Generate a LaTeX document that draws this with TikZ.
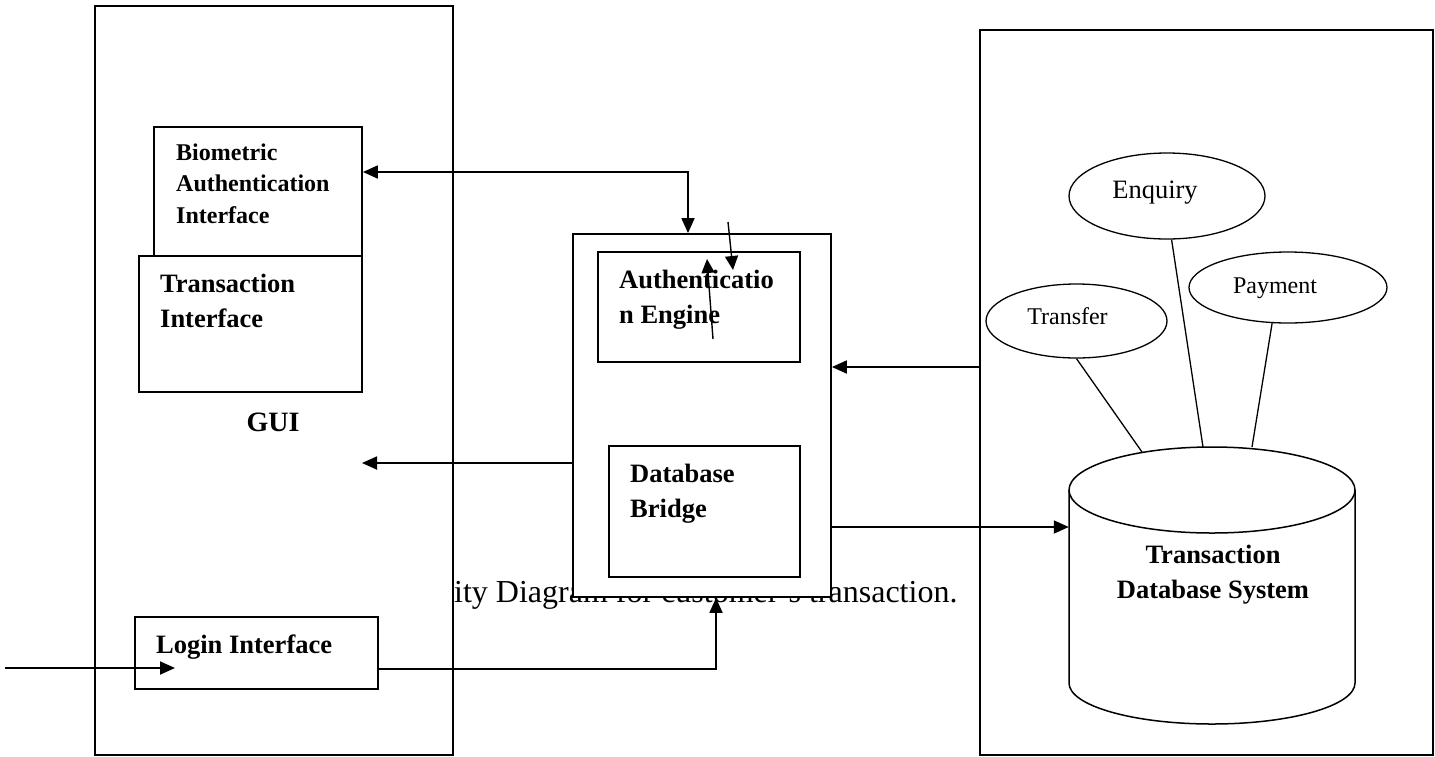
\documentclass[tikz,border=0pt]{standalone}
\usepackage{fontspec}
\setmainfont{Liberation Serif}
\usetikzlibrary{arrows.meta,shapes.geometric}

% stacked lines whose anchor is the first baseline
\newcommand\boxlines[2][l]{\begin{tabular}[t]{@{}#1@{}}#2\end{tabular}}

\begin{document}
\begin{tikzpicture}[x=1pt,y=-1pt,
  panel/.style={draw,line width=1.8pt,fill=white,inner sep=0pt},
  lbl/.style={inner sep=0pt,anchor=base west,font=\bfseries\fontsize{26.5}{35}\selectfont},
  small lbl/.style={lbl,font=\bfseries\fontsize{24}{31.5}\selectfont},
  oval/.style={ellipse,draw,line width=1.3pt,fill=white,inner sep=0pt},
  oval text/.style={inner sep=0pt,anchor=base,font=\fontsize{24}{28}\selectfont},
  link/.style={line width=1.3pt},
  arr/.style={line width=1.8pt,-{Triangle[length=15pt,width=13pt]}},
  thin arr/.style={line width=1.4pt,-{Triangle[length=14pt,width=13pt]}},
  biarr/.style={line width=1.8pt,{Triangle[length=15pt,width=13pt]}-{Triangle[length=15pt,width=13pt]}}]

\useasboundingbox (0,0) rectangle (1435,756);

% caption, partly hidden by the panels drawn over it
\node[anchor=base west,inner sep=0pt,font=\fontsize{32}{38}\selectfont] (caption) at (454,602) {ity Diagram for customer's transaction.};

% GUI side
\node[panel,minimum width=358pt,minimum height=749pt] (gui) at (274,380.5) {};
\node[panel,minimum width=208pt,minimum height=129pt] (bio) at (258,191.5) {};
\node[panel,minimum width=223pt,minimum height=136pt] (trans) at (250.5,324) {};
\node[panel,minimum width=243pt,minimum height=72pt] (login) at (256.5,653) {};
\node[small lbl] (biotext) at (176,160) {\boxlines{Biometric\\Authentication\\Interface}};
\node[lbl] (transtext) at (160,292) {\boxlines{Transaction\\Interface}};
\node[lbl,anchor=base,font=\bfseries\fontsize{28}{34}\selectfont] (guitext) at (273,431) {GUI};
\node[lbl] (logintext) at (156,653) {Login Interface};

% engine in the middle
\node[panel,minimum width=258pt,minimum height=363pt] (mid) at (702,415.5) {};
\node[panel,minimum width=202pt,minimum height=110pt] (auth) at (699,307) {};
\node[panel,minimum width=191pt,minimum height=131pt] (bridge) at (704.5,511.5) {};
\node[lbl] (authtext) at (619,288) {\boxlines{Authenticatio\\n Engine}};
\node[lbl] (bridgetext) at (630,482) {\boxlines{Database\\Bridge}};

% transaction store on the right
\node[panel,minimum width=453pt,minimum height=725pt] (store) at (1206.5,392.5) {};
\node[inner sep=0pt,minimum width=286pt,minimum height=277pt] (db) at (1212,585.5) {};
\draw[line width=1.5pt,fill=white] (1212,490) ellipse [x radius=143pt, y radius=43pt];
\draw[line width=1.5pt] (1069,490) -- (1069,683)
  arc[start angle=180,end angle=360,x radius=143pt,y radius=41pt] -- (1355,490);
\node[lbl,anchor=base] (dbtext) at (1213,563) {\boxlines[c]{Transaction\\Database System}};

\node[oval,minimum width=196pt,minimum height=86pt] (enq) at (1167,196) {};
\node[oval,minimum width=198pt,minimum height=71pt] (pay) at (1288,287.5) {};
\node[oval,minimum width=181pt,minimum height=74pt] (tra) at (1076.5,321) {};
\node[oval text,font=\fontsize{26.5}{30}\selectfont] (enqtext) at (1155,198) {Enquiry};
\node[oval text] (paytext) at (1275,293) {Payment};
\node[oval text] (tratext) at (1067.5,324) {Transfer};

\coordinate (traEnd) at (1142,452);
\coordinate (enqEnd) at (1203,447);
\coordinate (payEnd) at (1252,447);
\draw[link] (tra.south) -- (traEnd);
\draw[link] (enq.276) -- (enqEnd);
\draw[link] (pay.246) -- (payEnd);

% connectors
\coordinate (bioLink) at (688,172);
\draw[biarr] (bio.east |- bioLink) -- (bioLink) -- (mid.north -| bioLink);

\coordinate (guiIn) at (362,463);
\draw[arr] (mid.west |- guiIn) -- (guiIn);

\coordinate (fromStore) at (980,367);
\draw[arr] (store.west |- fromStore) -- (mid.east |- fromStore);

\coordinate (toDb) at (831,527);
\draw[arr] (mid.east |- toDb) -- (db.west |- toDb);

\coordinate (entry) at (5,668);
\coordinate (entryTip) at (175,668);
\draw[arr] (entry) -- (entryTip);

\coordinate (loginBend) at (716,669);
\draw[arr] (login.east |- loginBend) -- (loginBend) -- (mid.south -| loginBend);

\coordinate (inA) at (728,222);
\coordinate (inAtip) at (733,270);
\coordinate (inB) at (713,339);
\coordinate (inBtip) at (707,259);
\draw[thin arr] (inA) -- (inAtip);
\draw[thin arr] (inB) -- (inBtip);
\end{tikzpicture}
\end{document}
